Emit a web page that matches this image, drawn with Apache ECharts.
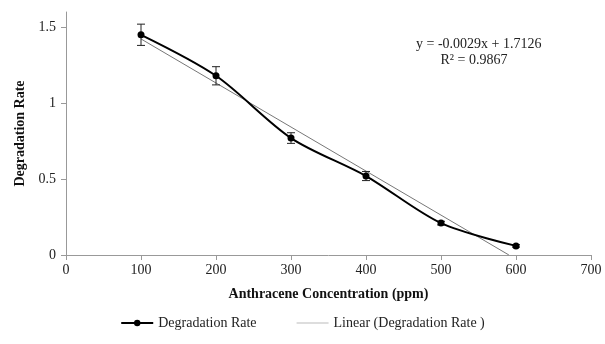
<!DOCTYPE html>
<html>
<head>
<meta charset="utf-8">
<script src="https://cdn.jsdelivr.net/npm/echarts@6/dist/echarts.min.js"></script>
<style>
  html, body { margin: 0; padding: 0; background: #fff; }
  #mainPlot { width: 605px; height: 344px; }
</style>
</head>
<body>
<div id="mainPlot"></div>
<script>
// values
const concentrations = [100, 200, 300, 400, 500, 600];
const degradationRate = [1.45, 1.18, 0.77, 0.52, 0.21, 0.06];
const errorSize = [0.07, 0.06, 0.035, 0.03, 0.012, 0.008];
const trendSlope = -0.0029;
const trendIntercept = 1.7126;
const trendX = [100, 590.5];
const xTicks = [0, 100, 200, 300, 400, 500, 600, 700];
const yTicks = [0, 0.5, 1, 1.5];

const font = "'Liberation Serif', 'Times New Roman', serif";

const mainData = concentrations.map((x, i) => [x, degradationRate[i]]);
const errData = concentrations.map((x, i) => [x, degradationRate[i] - errorSize[i], degradationRate[i] + errorSize[i]]);
const trendData = trendX.map((x) => [x, trendSlope * x + trendIntercept]);

const chartDom = document.getElementById("mainPlot");
const myChart = echarts.init(chartDom);

const option = {
  animation: false,
  textStyle: { fontFamily: font },
  grid: { left: 66, right: 14, top: 12, bottom: 89 },
  legend: {
    bottom: 9,
    left: "center",
    itemGap: 40,
    itemWidth: 32,
    itemHeight: 8,
    textStyle: { fontFamily: font, fontSize: 14, color: "#222" },
    data: [
      { name: "Degradation Rate" },
      { name: "Linear (Degradation Rate )", icon: "path://M0,3.7L34,3.7L34,4.3L0,4.3Z" }
    ]
  },
  xAxis: {
    type: "value",
    min: 0,
    max: 700,
    interval: 100,
    name: "Anthracene Concentration (ppm)",
    nameLocation: "middle",
    nameGap: 32,
    nameTextStyle: { fontFamily: font, fontSize: 14, fontWeight: "bold", color: "#111" },
    axisLine: { lineStyle: { color: "#999" } },
    axisTick: { show: true, length: 5, lineStyle: { color: "#999" } },
    axisLabel: { fontFamily: font, fontSize: 14, color: "#222", margin: 8 },
    splitLine: { show: false }
  },
  yAxis: {
    type: "value",
    min: 0,
    max: 1.6,
    interval: 0.5,
    name: "Degradation Rate",
    nameLocation: "middle",
    nameGap: 37,
    nameTextStyle: { fontFamily: font, fontSize: 14, fontWeight: "bold", color: "#111" },
    axisLine: { show: true, lineStyle: { color: "#999" } },
    axisTick: { show: true, length: 5, lineStyle: { color: "#999" } },
    axisLabel: { fontFamily: font, fontSize: 14, color: "#222", margin: 10, showMaxLabel: false },
    splitLine: { show: false }
  },
  series: [
    {
      name: "Linear (Degradation Rate )",
      type: "line",
      data: trendData,
      symbol: "none",
      lineStyle: { color: "#777", width: 1 },
      itemStyle: { color: "#777" },
      z: 1
    },
    {
      name: "Degradation Rate",
      type: "line",
      data: mainData,
      smooth: 0.3,
      symbol: "circle",
      symbolSize: 7,
      lineStyle: { color: "#000", width: 2 },
      itemStyle: { color: "#000" },
      z: 3
    },
    {
      name: "errors",
      type: "custom",
      data: errData,
      z: 2,
      renderItem: (params, api) => {
        const x = api.value(0);
        const lo = api.coord([x, api.value(1)]);
        const hi = api.coord([x, api.value(2)]);
        const w = 4;
        const style = { stroke: "#222", lineWidth: 1 };
        return {
          type: "group",
          children: [
            { type: "line", shape: { x1: lo[0], y1: lo[1], x2: hi[0], y2: hi[1] }, style },
            { type: "line", shape: { x1: lo[0] - w, y1: lo[1], x2: lo[0] + w, y2: lo[1] }, style },
            { type: "line", shape: { x1: hi[0] - w, y1: hi[1], x2: hi[0] + w, y2: hi[1] }, style }
          ]
        };
      }
    }
  ],
  graphic: [
    {
      type: "text",
      left: 416,
      top: 36,
      style: {
        text: "y = -0.0029x + 1.7126\n       R² = 0.9867",
        font: "14px " + font,
        fill: "#222",
        lineHeight: 16
      }
    }
  ]
};

myChart.setOption(option);
</script>
</body>
</html>
